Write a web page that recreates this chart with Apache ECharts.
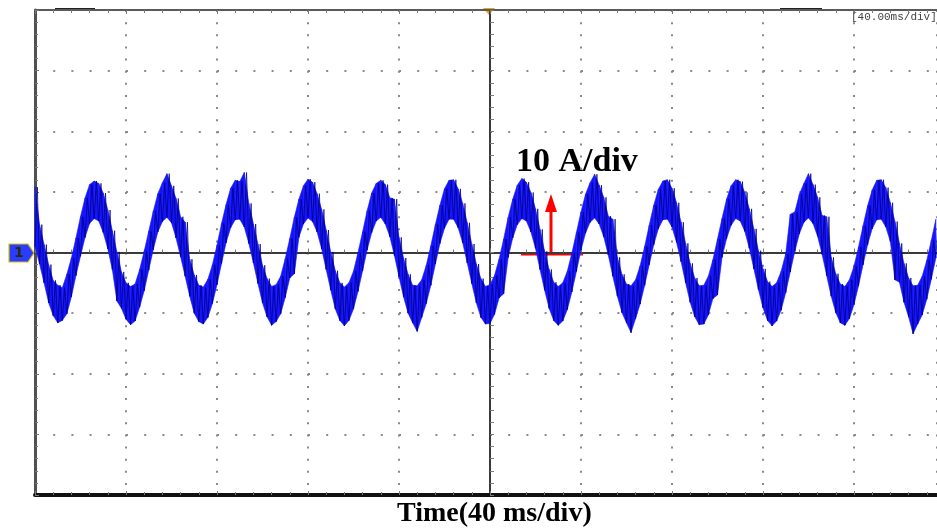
<!DOCTYPE html>
<html>
<head>
<meta charset="utf-8">
<script src="https://cdn.jsdelivr.net/npm/echarts@6/dist/echarts.min.js"></script>
<style>
  html, body { margin: 0; padding: 0; background: #fff; }
  #scope { width: 937px; height: 532px; }
</style>
</head>
<body>
<div id="scope"></div>
<script>
// oscilloscope capture, phase current, 40 ms/div, 10 A/div
var timeStart = -200;   // ms, first sample (left edge of screen)
var timeEnd = 196.5;    // ms, right edge of the cropped screen
var timeStep = 2;       // ms between samples

// upper edge of the noisy trace (A), one value per sample
var hiVals = [
  10.8, 4.6, 1.3, -2.0, -4.6, -5.4, -5.8, -3.6, -0.9, 2.4,
  5.9, 9.0, 11.2, 11.8, 11.4, 9.8, 7.0, 3.6, 0.1, -3.2,
  -5.0, -5.6, -5.2, -2.8, 0.2, 3.5, 6.8, 9.7, 11.5, 13.0,
  11.0, 8.9, 5.9, 5.0, -1.1, -3.7, -5.4, -5.7, -4.4, -2.0,
  1.2, 4.8, 7.9, 10.6, 11.9, 11.7, 13.2, 8.1, 4.7, 1.4,
  -2.1, -4.3, -5.6, -5.3, -3.9, -1.0, 2.3, 5.8, 8.8, 11.0,
  12.1, 11.6, 9.7, 7.1, 3.7, 0.1, -3.0, -5.0, -5.7, -5.0,
  -3.1, 0.0, 3.4, 6.9, 9.8, 11.4, 11.9, 11.2, 9.0, 8.8,
  2.5, -0.9, -3.6, -5.4, -5.5, -4.5, -2.1, 1.1, 4.6, 7.8,
  10.5, 11.9, 12.0, 10.5, 8.1, 4.9, 1.4, -1.9, -4.3, -5.6,
  -5.3, -3.8, -1.1, 2.2, 5.8, 8.8, 11.1, 12.2, 11.6, 9.9,
  7.2, 3.8, 0.2, -2.8, -4.9, -5.6, -5.0, -3.1, -0.1, 3.3,
  6.7, 9.6, 11.5, 12.9, 11.1, 9.1, 6.0, 5.5, -0.8, -3.6,
  -5.2, -5.5, -4.5, -2.2, 1.0, 4.5, 7.8, 10.4, 11.8, 12.0,
  10.6, 8.2, 5.0, 1.5, -1.8, -4.2, -5.5, -5.4, -3.9, -1.2,
  2.2, 5.6, 8.8, 11.0, 12.0, 11.7, 9.9, 7.2, 3.9, 0.3,
  -2.7, -4.8, -5.6, -5.0, -3.1, -0.2, 6.3, 6.7, 9.6, 11.4,
  13.0, 11.2, 9.1, 6.1, 5.9, -0.8, -3.5, -5.2, -5.6, -4.5,
  -2.3, 0.9, 4.4, 7.7, 10.3, 11.9, 12.0, 10.7, 8.2, 5.1,
  1.5, -1.8, -4.2, -5.5, -5.4, -3.9, -1.3, 2.0, 5.5
];

// lower edge of the noisy trace (A), one value per sample
var loVals = [
  1.0, -1.9, -5.0, -8.3, -10.4, -11.6, -11.2, -10.1, -7.3, -3.8,
  -0.6, 2.5, 4.8, 5.6, 5.2, 3.3, 0.6, -2.8, -8.0, -9.2,
  -11.0, -11.9, -11.3, -9.0, -6.3, -2.9, 0.5, 3.4, 5.1, 5.8,
  4.9, 2.4, -0.7, -3.9, -7.2, -10.0, -11.4, -11.8, -10.7, -8.4,
  -5.3, -1.8, 1.6, 4.1, 5.4, 5.5, 4.2, 1.5, -1.7, -5.1,
  -8.3, -10.6, -12.0, -11.4, -10.1, -7.4, -4.2, -3.5, 2.5, 4.7,
  5.7, 5.1, 3.4, 0.6, -2.8, -6.2, -9.3, -11.2, -12.1, -11.2,
  -9.3, -6.4, -3.0, 0.4, 3.3, 5.2, 5.8, 4.7, 2.6, -0.5,
  -4.0, -7.3, -10.0, -11.6, -13.0, -10.7, -8.4, -5.4, -1.9, 1.5,
  4.0, 5.5, 5.5, 4.1, 1.6, -1.7, -5.1, -8.3, -10.7, -11.8,
  -11.7, -10.2, -7.5, -6.8, -0.8, 2.4, 4.6, 5.6, 5.2, 3.4,
  0.7, -2.8, -6.2, -9.2, -11.2, -12.0, -11.3, -9.4, -6.5, -3.1,
  0.4, 3.2, 5.0, 5.7, 4.7, 2.6, -0.4, -3.9, -7.2, -9.9,
  -11.6, -13.2, -10.9, -8.5, -5.4, -2.0, 1.3, 3.9, 5.4, 5.5,
  4.2, 1.7, -1.5, -5.0, -8.2, -10.6, -11.9, -11.8, -10.3, -7.6,
  -7.0, -0.8, 2.3, 4.5, 5.6, 5.2, 3.5, 0.7, -2.7, -6.1,
  -9.1, -11.2, -12.1, -11.3, -9.5, -6.6, -3.2, 0.2, 3.1, 5.0,
  5.7, 4.8, 2.7, -0.3, -3.8, -7.2, -9.9, -11.6, -12.0, -10.9,
  -8.6, -5.5, -2.0, 1.3, 3.9, 5.4, 5.5, 4.2, 1.8, -4.5,
  -4.9, -8.2, -10.6, -13.4, -11.8, -10.3, -7.7, -4.4, -0.9
];

// band rows [t, lo, hi] and the zigzag (the dense scope trace)
var band = [], trace = [];
for (var k = 0; k < hiVals.length; k++) {
    var t = timeStart + timeStep * k;
    band.push([t, loVals[k], hiVals[k]]);
    trace.push([t, loVals[k]]);
    trace.push([t + timeStep / 2, hiVals[k]]);
}

function renderBand(params, api) {
    var i = params.dataIndex;
    if (i >= band.length - 1) return null;
    var a = band[i], b = band[i + 1];
    var pts = [
        api.coord([a[0], a[1]]),
        api.coord([b[0], b[1]]),
        api.coord([b[0], b[2]]),
        api.coord([a[0], a[2]])
    ];
    return {
        type: 'polygon',
        shape: { points: pts },
        style: { fill: '#1414ff', stroke: '#1414ff', lineWidth: 0.6 }
    };
}

var chart = echarts.init(document.getElementById('scope'), null, { renderer: 'canvas' });

var dotGray = '#8a8a8a';
var tickGray = '#7a7a7a';

function frameAxis(extra) {
    var a = {
        type: 'value',
        axisLabel: { show: false },
        axisTick: { show: true, inside: true, length: 4, lineStyle: { color: tickGray } },
        minorTick: { show: true, splitNumber: 5, length: 3, lineStyle: { color: tickGray } },
        splitLine: { show: false }
    };
    for (var key in extra) a[key] = extra[key];
    return a;
}

var xRange = { min: timeStart, max: timeEnd, interval: 40 };
var yRange = { min: -40, max: 40, interval: 10 };

var option = {
    animation: false,
    backgroundColor: '#ffffff',
    grid: { left: 35, top: 10, right: 0, height: 485 },
    xAxis: [
        frameAxis(Object.assign({   // centre horizontal line
            axisLine: { onZero: true, lineStyle: { color: '#3a3a3a', width: 2 } },
            splitLine: { show: true, lineStyle: { color: dotGray, width: 2, type: [2, 10.125] } }
        }, xRange)),
        frameAxis(Object.assign({   // bottom frame
            position: 'bottom',
            axisLine: { onZero: false, lineStyle: { color: '#111', width: 4 } }
        }, xRange)),
        frameAxis(Object.assign({   // top frame
            position: 'top',
            axisLine: { onZero: false, lineStyle: { color: '#5a5a5a', width: 2 } }
        }, xRange))
    ],
    yAxis: [
        frameAxis(Object.assign({   // centre vertical line
            axisLine: { onZero: true, lineStyle: { color: '#3a3a3a', width: 2 } },
            minorTick: { show: true, splitNumber: 5, length: 4, lineStyle: { color: tickGray } },
            splitLine: { show: true, lineStyle: { color: dotGray, width: 2, type: [2, 16.2] } }
        }, yRange)),
        frameAxis(Object.assign({   // left frame
            position: 'left',
            axisLine: { onZero: false, lineStyle: { color: '#505050', width: 3 } }
        }, yRange))
    ],
    series: [
        {
            name: 'band',
            type: 'custom',
            data: band,
            encode: { x: 0, y: [1, 2] },
            renderItem: renderBand,
            z: 3
        },
        {
            name: 'i',
            type: 'line',
            data: trace,
            showSymbol: false,
            sampling: null,
            lineStyle: { color: '#00007a', width: 1, opacity: 0.75 },
            z: 4
        }
    ],
    graphic: [
        {   // scroll marks on the top frame
            type: 'rect', shape: { x: 55, y: 8, width: 40, height: 2 },
            style: { fill: '#222' }
        },
        {
            type: 'rect', shape: { x: 780, y: 8, width: 42, height: 2 },
            style: { fill: '#222' }
        },
        {   // channel 1 marker
            type: 'polygon',
            shape: { points: [[9, 244], [28, 244], [34, 253], [28, 262], [9, 262]] },
            style: { fill: '#2a3cff', stroke: '#d8c400', lineWidth: 1.2 }
        },
        {
            type: 'text', left: 14, top: 246,
            style: { text: '1', font: 'bold 14px "DejaVu Sans"', fill: '#2b2b00' }
        },
        {   // trigger marker
            type: 'polygon',
            shape: { points: [[483, 8], [495, 8], [489, 15]] },
            style: { fill: '#f0a020' }
        },
        {
            type: 'text', left: 851, top: 12,
            style: { text: '[40.00ms/div]', font: '11px "Liberation Mono"', fill: '#444' }
        },
        {
            type: 'text', left: 516, top: 145,
            style: { text: '10 A/div', font: 'bold 34px "Liberation Serif"', fill: '#000' }
        },
        {   // scale arrow
            type: 'line',
            shape: { x1: 521, y1: 254, x2: 583, y2: 254 },
            style: { stroke: '#ff0000', lineWidth: 3 }
        },
        {
            type: 'line',
            shape: { x1: 551, y1: 254, x2: 551, y2: 208 },
            style: { stroke: '#ff0000', lineWidth: 3 }
        },
        {
            type: 'polygon',
            shape: { points: [[545, 212], [557, 212], [551, 194]] },
            style: { fill: '#ff0000' }
        },
        {
            type: 'text', left: 397, top: 500,
            style: { text: 'Time(40 ms/div)', font: 'bold 28px "Liberation Serif"', fill: '#000' }
        }
    ]
};

chart.setOption(option);
</script>
</body>
</html>
